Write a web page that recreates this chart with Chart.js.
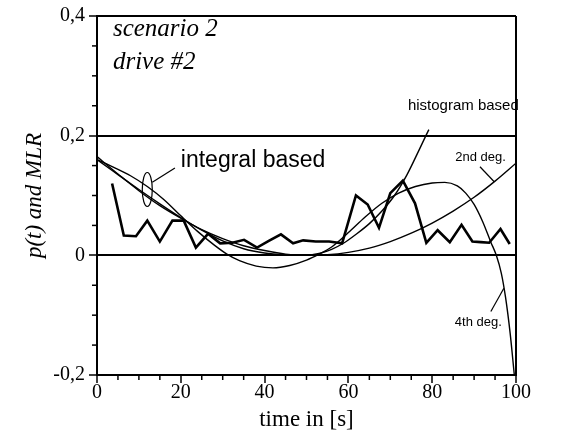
<!DOCTYPE html>
<html><head><meta charset="utf-8">
<script src="https://cdn.jsdelivr.net/npm/chart.js@4/dist/chart.umd.min.js"></script>
<style>html,body{margin:0;padding:0;background:#fff}</style>
</head><body>
<canvas id="c" width="567" height="446"></canvas>
<script>
// ---- data ----
const mlrTime   = [3.6, 6.4, 9.3, 12.0, 15.0, 18.0, 20.7, 23.6, 26.5, 29.4, 32.3, 35.1, 38.2, 41.0, 43.9, 46.8, 49.2, 52.2, 55.4, 58.5, 61.8, 64.6, 67.3, 70.0, 73.0, 75.9, 78.6, 81.3, 84.2, 87.0, 89.6, 91.6, 93.6, 96.3, 98.5];
const mlrValues = [0.120, 0.033, 0.032, 0.058, 0.023, 0.058, 0.058, 0.013, 0.036, 0.020, 0.021, 0.026, 0.013, 0.024, 0.035, 0.020, 0.025, 0.023, 0.023, 0.020, 0.100, 0.085, 0.046, 0.104, 0.125, 0.087, 0.021, 0.042, 0.022, 0.051, 0.023, 0.022, 0.021, 0.044, 0.019];

const deg2Time   = [0, 5, 10, 15, 20, 25, 30, 35, 40, 45, 50, 55, 60, 65, 70, 75, 80, 85, 90, 95, 100];
const deg2Values = [0.165, 0.136, 0.108, 0.083, 0.062, 0.043, 0.028, 0.016, 0.008, 0.002, 0.000, 0.001, 0.005, 0.012, 0.023, 0.037, 0.054, 0.074, 0.097, 0.124, 0.154];

const deg4Time   = [0, 4, 8, 12, 16, 20, 24, 28, 31, 34, 38, 42, 46, 50, 53, 56, 60, 64, 68, 72, 76, 80, 83, 86, 88, 90, 92, 94, 95.3, 96.5, 97.5, 98.6, 99.6];
const deg4Values = [0.160, 0.147, 0.133, 0.115, 0.093, 0.066, 0.040, 0.017, 0.002, -0.009, -0.018, -0.021, -0.017, -0.008, 0.002, 0.014, 0.038, 0.064, 0.087, 0.104, 0.115, 0.121, 0.122, 0.116, 0.104, 0.085, 0.057, 0.022, 0.000, -0.030, -0.070, -0.130, -0.200];

const histTime   = [0, 5, 10, 15, 20, 25, 30, 35, 40, 45, 50, 53, 56, 59, 62, 65, 68, 71, 74, 77, 78.5, 79.2];
const histValues = [0.160, 0.135, 0.110, 0.086, 0.063, 0.042, 0.024, 0.011, 0.004, 0.001, 0.000, 0.003, 0.010, 0.021, 0.036, 0.053, 0.074, 0.100, 0.135, 0.178, 0.200, 0.210];

const xMajorTicks = [0, 20, 40, 60, 80, 100];
const xMinorTicks = [5, 10, 15, 25, 30, 35, 45, 50, 55, 65, 70, 75, 85, 90, 95];
const yMajorTicks = [-0.2, 0, 0.2, 0.4];
const yMinorTicks = [-0.15, -0.1, -0.05, 0.05, 0.1, 0.15, 0.25, 0.3, 0.35];

// ---- build points ----
const pts = (xs, ys) => xs.map((v, i) => ({x: v, y: ys[i]}));

const SERIF = '"Liberation Serif", "Times New Roman", serif';
const SANS = '"Liberation Sans", Arial, sans-serif';

const annotations = {
  texts: [
    {t: 'scenario 2', x: 3.8, y: 0.3775, font: 'italic 25px ' + SERIF},
    {t: 'drive #2', x: 3.8, y: 0.323, font: 'italic 25px ' + SERIF},
    {t: 'histogram based', x: 74.2, y: 0.250, font: '15px ' + SANS},
    {t: 'integral based', x: 20.0, y: 0.158, font: '23px ' + SANS},
    {t: '2nd deg.', x: 85.5, y: 0.163, font: '13px ' + SANS},
    {t: '4th deg.', x: 85.4, y: -0.112, font: '13px ' + SANS}
  ],
  leaders: [
    [91.4, 0.148, 94.8, 0.123],
    [94.0, -0.094, 97.1, -0.055],
    [13.2, 0.122, 18.6, 0.146]
  ],
  ellipse: {x: 12.0, y: 0.110, rx: 5, ry: 17}
};

const annotPlugin = {
  id: 'annot',
  afterDatasetsDraw(chart) {
    const {ctx, scales: {x, y}} = chart;
    ctx.save();
    ctx.strokeStyle = '#000';
    ctx.fillStyle = '#000';
    ctx.lineWidth = 1.5;
    xMinorTicks.forEach(v => {
      const px = x.getPixelForValue(v);
      ctx.beginPath(); ctx.moveTo(px, y.bottom); ctx.lineTo(px, y.bottom + 5); ctx.stroke();
    });
    yMinorTicks.forEach(v => {
      const py = y.getPixelForValue(v);
      ctx.beginPath(); ctx.moveTo(x.left, py); ctx.lineTo(x.left - 5, py); ctx.stroke();
    });
    ctx.textAlign = 'left';
    ctx.textBaseline = 'middle';
    annotations.texts.forEach(a => {
      ctx.font = a.font;
      ctx.fillText(a.t, x.getPixelForValue(a.x), y.getPixelForValue(a.y));
    });
    ctx.lineWidth = 1.2;
    annotations.leaders.forEach(l => {
      ctx.beginPath();
      ctx.moveTo(x.getPixelForValue(l[0]), y.getPixelForValue(l[1]));
      ctx.lineTo(x.getPixelForValue(l[2]), y.getPixelForValue(l[3]));
      ctx.stroke();
    });
    const e = annotations.ellipse;
    ctx.beginPath();
    ctx.ellipse(x.getPixelForValue(e.x), y.getPixelForValue(e.y), e.rx, e.ry, 0, 0, Math.PI * 2);
    ctx.stroke();
    ctx.restore();
  }
};

const thin = {showLine: true, borderColor: '#000', borderWidth: 1.4, pointRadius: 0, fill: false, cubicInterpolationMode: 'monotone'};

new Chart(document.getElementById('c'), {
  type: 'scatter',
  data: {
    datasets: [
      Object.assign({label: 'integral based 2nd deg.', data: pts(deg2Time, deg2Values)}, thin),
      Object.assign({label: 'integral based 4th deg.', data: pts(deg4Time, deg4Values)}, thin),
      Object.assign({label: 'histogram based', data: pts(histTime, histValues)}, thin),
      {label: 'MLR', data: pts(mlrTime, mlrValues), showLine: true, borderColor: '#000', borderWidth: 2.6, pointRadius: 0, tension: 0, borderJoinStyle: 'miter'}
    ]
  },
  options: {
    responsive: false,
    animation: false,
    events: [],
    layout: {padding: {top: 15, right: 51, left: 0, bottom: 0}},
    plugins: {legend: {display: false}, tooltip: {enabled: false}},
    scales: {
      x: {
        type: 'linear', min: 0, max: 100,
        afterFit: s => { s.height = 71; },
        afterBuildTicks: s => { s.ticks = xMajorTicks.map(v => ({value: v})); },
        ticks: {color: '#000', font: {family: SERIF, size: 20, lineHeight: 1}, padding: 0, maxRotation: 0, callback: v => String(v)},
        grid: {
          color: c => (c.tick && (c.tick.value === 0 || c.tick.value === 100)) ? '#000' : 'rgba(0,0,0,0)',
          tickColor: '#000', tickLength: 8, lineWidth: 2, tickWidth: 1.5
        },
        border: {display: true, color: '#000', width: 2},
        title: {display: true, text: 'time in [s]', color: '#000', font: {family: SERIF, size: 23}, padding: {top: 0, bottom: 12}}
      },
      y: {
        type: 'linear', min: -0.2, max: 0.4,
        afterFit: s => { s.width = 97; },
        afterBuildTicks: s => { s.ticks = yMajorTicks.map(v => ({value: v})); },
        ticks: {color: '#000', font: {family: SERIF, size: 20}, padding: 4,
          callback: v => Math.abs(v) < 1e-9 ? '0' : v.toFixed(1).replace('.', ',')},
        grid: {color: '#000', tickColor: '#000', tickLength: 8, lineWidth: 2, tickWidth: 1.5},
        border: {display: true, color: '#000', width: 2},
        title: {display: true, text: 'p(t) and MLR', color: '#000', font: {family: SERIF, size: 23, style: 'italic'}, padding: {top: 21, bottom: 0}}
      }
    }
  },
  plugins: [annotPlugin]
});
</script>
</body></html>
